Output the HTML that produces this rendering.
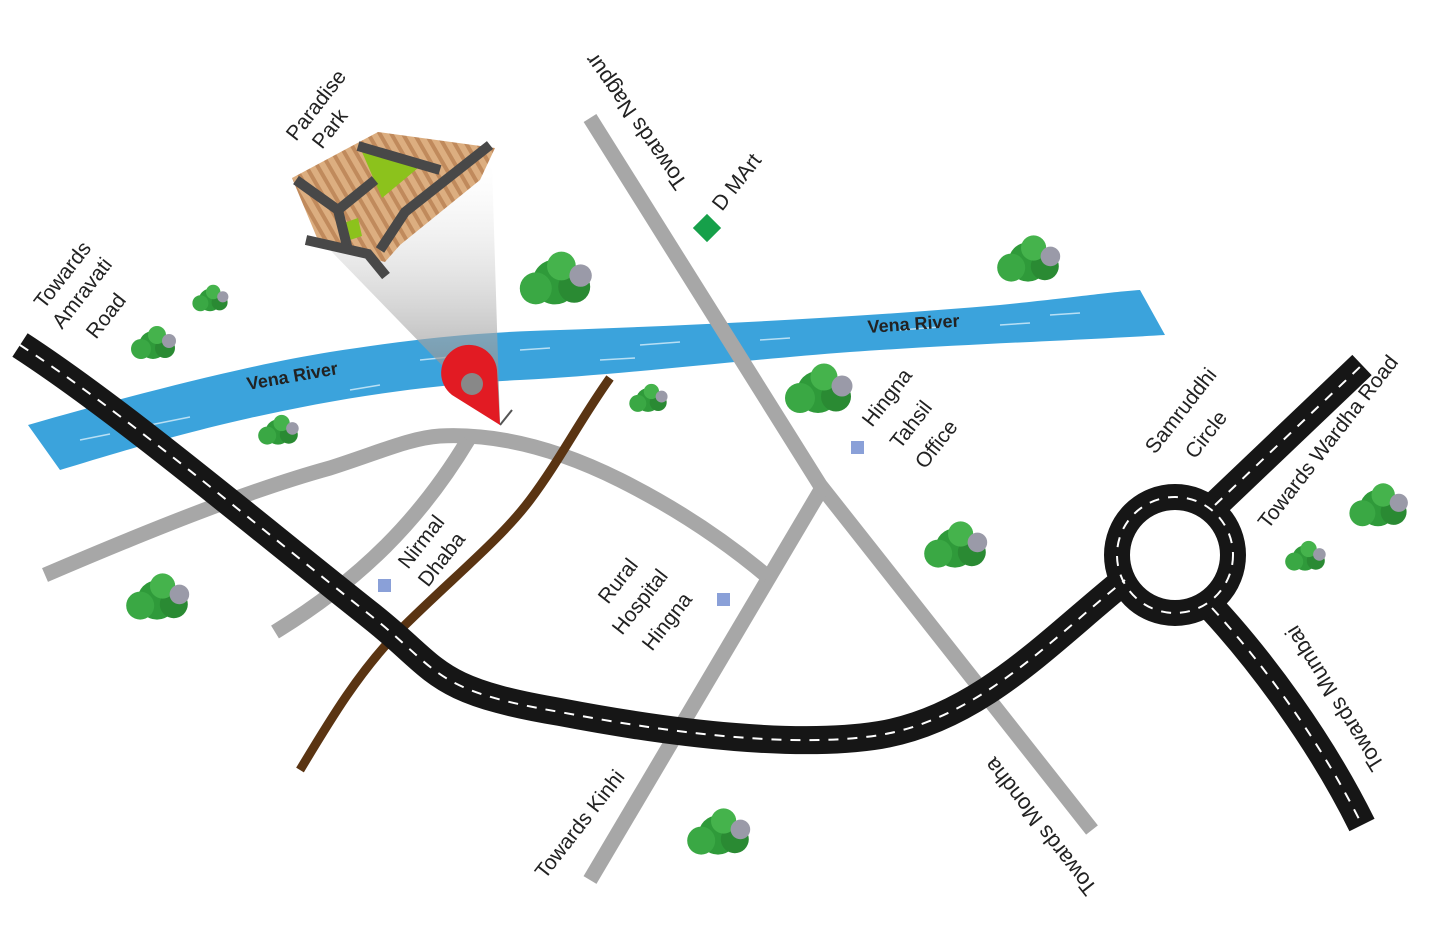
<!DOCTYPE html>
<html><head><meta charset="utf-8"><style>
html,body{margin:0;padding:0;background:#fff;}
svg{display:block;}
text{font-family:"Liberation Sans",sans-serif;fill:#222;}
</style></head><body>
<svg width="1450" height="937" viewBox="0 0 1450 937" xmlns="http://www.w3.org/2000/svg">
<defs>
<linearGradient id="cone" x1="0" y1="0" x2="0" y2="1">
<stop offset="0" stop-color="#fff" stop-opacity="0.2"/>
<stop offset="1" stop-color="#777" stop-opacity="0.85"/>
</linearGradient>
<pattern id="plots" width="10" height="10" patternUnits="userSpaceOnUse" patternTransform="rotate(-30)">
<rect width="10" height="10" fill="#dcae80"/>
<rect width="4" height="10" fill="#c08a5c"/>
</pattern>
<g id="tree">
<circle cx="0" cy="0" r="14" fill="#2f9a3a"/>
<circle cx="-12" cy="4" r="10" fill="#3aa844"/>
<circle cx="12" cy="3" r="10" fill="#2a8a33"/>
<circle cx="4" cy="-10" r="9" fill="#45b34c"/>
<circle cx="16" cy="-4" r="7" fill="#9a9aa8"/>
</g>
</defs>

<!-- river -->
<path d="M28,425 C150,390 250,365 330,352 C420,338 480,332 560,330 C700,325 850,318 1000,305 C1070,298 1110,292 1140,290 L1165,335 C1080,340 950,345 850,352 C720,362 620,375 520,380 C420,385 330,400 250,418 C170,436 110,455 60,470 Z" fill="#3ba3dc"/>
<g stroke="#d8eefa" stroke-width="1.5" fill="none" opacity="0.8">
<path d="M80,440 l30,-6 M150,425 l40,-8 M420,360 l40,-4 M520,350 l30,-2 M640,345 l40,-3 M760,340 l30,-2 M900,330 l40,-3 M1050,315 l30,-2 M350,390 l30,-5 M600,360 l35,-2 M1000,325 l30,-2"/>
</g>
<text x="248" y="390" font-size="18" font-weight="bold" transform="rotate(-10 248 390)" fill="#1a1a2a">Vena River</text>
<text x="868" y="333" font-size="18" font-weight="bold" transform="rotate(-4 868 333)" fill="#1a1a2a">Vena River</text>

<!-- cone -->
<polygon points="330,250 492,165 500,425" fill="url(#cone)"/>

<!-- grey roads -->
<g stroke="#a7a7a7" stroke-width="15" fill="none" stroke-linecap="butt">
<path d="M590,118 L820,485 L1092,830"/>
<path d="M822,488 L590,880"/>
<path d="M45,575 C150,530 250,490 330,468 C380,452 410,438 440,436 C500,433 560,450 620,480 C680,510 730,545 768,577"/>
<path d="M468,440 C420,520 360,580 275,632"/>
</g>
<path d="M300,770 C330,720 360,670 400,630 C450,580 500,540 530,500 C560,460 580,420 610,378" stroke="#5a3412" stroke-width="9" fill="none"/>

<!-- highway -->
<g fill="none">
<path d="M20,345 C120,410 250,520 370,615 C440,670 430,690 560,712 C680,735 800,748 880,735 C980,718 1050,640 1125,580" stroke="#161616" stroke-width="28"/>
<path d="M1215,505 L1362,365" stroke="#161616" stroke-width="28"/>
<path d="M1212,608 C1260,660 1320,740 1362,825" stroke="#161616" stroke-width="28"/>
<circle cx="1175" cy="555" r="58" stroke="#161616" stroke-width="26"/>
<g stroke="#fff" stroke-width="2" stroke-dasharray="10 9">
<path d="M20,345 C120,410 250,520 370,615 C440,670 430,690 560,712 C680,735 800,748 880,735 C980,718 1050,640 1125,580"/>
<path d="M1215,505 L1362,365"/>
<path d="M1212,608 C1260,660 1320,740 1362,825"/>
<circle cx="1175" cy="555" r="58"/>
</g>
</g>

<!-- park -->
<g>
<polygon points="292,178 378,132 495,148 480,180 400,245 385,262 320,245" fill="url(#plots)"/>
<polygon points="362,152 418,168 382,198" fill="#8cc21c"/>
<polygon points="338,225 358,218 362,236 344,242" fill="#8cc21c"/>
<g stroke="#484848" stroke-width="10" fill="none">
<path d="M296,180 L338,210 L348,250"/>
<path d="M358,146 L440,170"/>
<path d="M338,210 L375,180"/>
<path d="M490,145 L405,212 L380,250"/>
<path d="M306,240 L368,254 L386,276"/>
</g>
</g>

<!-- pin -->
<line x1="500" y1="425" x2="512" y2="410" stroke="#555" stroke-width="2"/>
<path d="M500,425 L452,395 A28,28 0 1 1 497,370 Z" fill="#e21b23"/>
<circle cx="472" cy="384" r="11" fill="#888"/>

<!-- trees -->
<use href="#tree" transform="translate(555,282) scale(1.6)"/>
<use href="#tree" transform="translate(210,300) scale(0.8)"/>
<use href="#tree" transform="translate(153,345) scale(1)"/>
<use href="#tree" transform="translate(278,432) scale(0.9)"/>
<use href="#tree" transform="translate(648,400) scale(0.85)"/>
<use href="#tree" transform="translate(818,392) scale(1.5)"/>
<use href="#tree" transform="translate(1028,262) scale(1.4)"/>
<use href="#tree" transform="translate(955,548) scale(1.4)"/>
<use href="#tree" transform="translate(157,600) scale(1.4)"/>
<use href="#tree" transform="translate(1378,508) scale(1.3)"/>
<use href="#tree" transform="translate(1305,558) scale(0.9)"/>
<use href="#tree" transform="translate(718,835) scale(1.4)"/>

<!-- markers -->
<rect x="697" y="218" width="20" height="20" fill="#16a04a" transform="rotate(45 707 228)"/>
<rect x="851" y="441" width="13" height="13" fill="#8aa0d8"/>
<rect x="378" y="579" width="13" height="13" fill="#8aa0d8"/>
<rect x="717" y="593" width="13" height="13" fill="#8aa0d8"/>

<!-- labels -->
<g font-size="21">
<text transform="translate(296,142) rotate(-52)">Paradise</text>
<text transform="translate(322,150) rotate(-52)">Park</text>
<text transform="translate(44,310) rotate(-52)">Towards</text>
<text transform="translate(62,330) rotate(-52)">Amravati</text>
<text transform="translate(96,340) rotate(-52)">Road</text>
<text font-size="22" transform="translate(688,183) rotate(-125)">Towards Nagpur</text>
<text transform="translate(722,212) rotate(-52)">D MArt</text>
<text transform="translate(872,428) rotate(-52)">Hingna</text>
<text transform="translate(900,450) rotate(-52)">Tahsil</text>
<text transform="translate(925,470) rotate(-52)">Office</text>
<text transform="translate(408,570) rotate(-52)">Nirmal</text>
<text transform="translate(428,588) rotate(-52)">Dhaba</text>
<text transform="translate(608,605) rotate(-52)">Rural</text>
<text transform="translate(622,636) rotate(-52)">Hospital</text>
<text transform="translate(652,652) rotate(-52)">Hingna</text>
<text transform="translate(1155,455) rotate(-52)">Samruddhi</text>
<text transform="translate(1195,460) rotate(-52)">Circle</text>
<text transform="translate(1268,530) rotate(-52)">Towards Wardha Road</text>
<text font-size="22" transform="translate(1385,765) rotate(-122)">Towards Mumbai</text>
<text transform="translate(545,880) rotate(-52)">Towards Kinhi</text>
<text font-size="22" transform="translate(1098,888) rotate(-128)">Towards Mondha</text>
</g>
</svg>
</body></html>
